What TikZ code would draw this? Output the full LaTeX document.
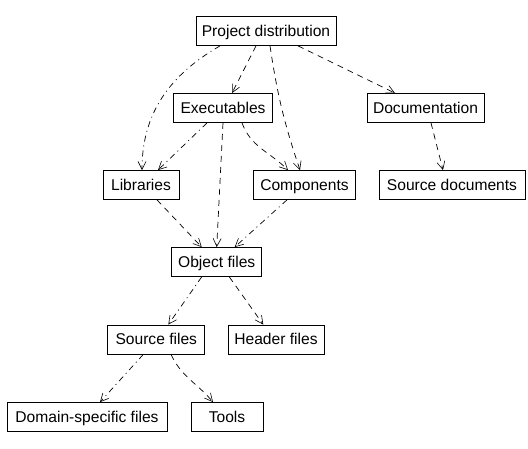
\documentclass[tikz,border=0pt]{standalone}
\usepackage{fontspec}
\setmainfont{Liberation Sans}
\usetikzlibrary{arrows.meta}
\begin{document}
\begin{tikzpicture}[x=1pt,y=1pt,
  box/.style={draw=black,line width=0.8pt,minimum height=29pt,inner sep=0pt,text height=11pt,text depth=0pt,font=\fontsize{15.6}{18}\selectfont},
  link/.style={line width=0.7pt,-{Straight Barb[length=8pt,width=8pt,line width=0.6pt]},dash pattern=on 6pt off 5pt},
  dlink/.style={line width=0.7pt,-{Straight Barb[length=8pt,width=8pt,line width=0.6pt]},dash pattern=on 6pt off 4pt on 1pt off 4pt}]
\useasboundingbox (0,0) rectangle (528,449);
\node[box,minimum width=140pt] (proj) at (266,418) {Project distribution};
\node[box,minimum width=99pt] (exe) at (223,341) {Executables};
\node[box,minimum width=117pt] (doc) at (425.5,341) {Documentation};
\node[box,minimum width=76pt] (lib) at (141,264) {Libraries};
\node[box,minimum width=102pt] (comp) at (304.5,264) {Components};
\node[box,minimum width=146pt] (srcdoc) at (452,264) {Source documents};
\node[box,minimum width=90pt] (obj) at (216.7,187) {Object files};
\node[box,minimum width=97pt] (src) at (156.3,109.5) {Source files};
\node[box,minimum width=96pt] (hdr) at (276,109.5) {Header files};
\node[box,minimum width=160pt] (dom) at (87,32) {Domain-specific files};
\node[box,minimum width=72pt] (tools) at (227,32) {Tools};

\draw[dlink] ([xshift=-46pt]proj.south) to[out=210,in=90] ([xshift=1pt]lib.north);
\draw[link] ([xshift=-10pt]proj.south) -- ([xshift=9pt]exe.north);
\draw[link] ([xshift=4pt]proj.south) to[bend right=5] ([xshift=-4.5pt]comp.north);
\draw[link] ([xshift=32pt]proj.south) -- ([xshift=-30.5pt]doc.north);
\draw[dlink] ([xshift=-16pt]exe.south) -- ([xshift=17pt]lib.north);
\draw[link] (exe.south) -- (obj.north);
\draw[link] ([xshift=19pt]exe.south) to[out=-70,in=135] ([xshift=-16.5pt]comp.north);
\draw[link] ([xshift=5.5pt]doc.south) -- ([xshift=-9pt]srcdoc.north);
\draw[link] ([xshift=16pt]lib.south) -- ([xshift=-15pt]obj.north);
\draw[dlink] ([xshift=-17.5pt]comp.south) -- ([xshift=18pt]obj.north);
\draw[dlink] ([xshift=-15pt]obj.south) -- ([xshift=12pt]src.north);
\draw[link] ([xshift=12.6pt]obj.south) -- ([xshift=-12.7pt]hdr.north);
\draw[dlink] ([xshift=-13pt]src.south) -- ([xshift=13pt]dom.north);
\draw[link] ([xshift=14.7pt]src.south) to[out=-65,in=130] ([xshift=-14pt]tools.north);
\end{tikzpicture}
\end{document}
